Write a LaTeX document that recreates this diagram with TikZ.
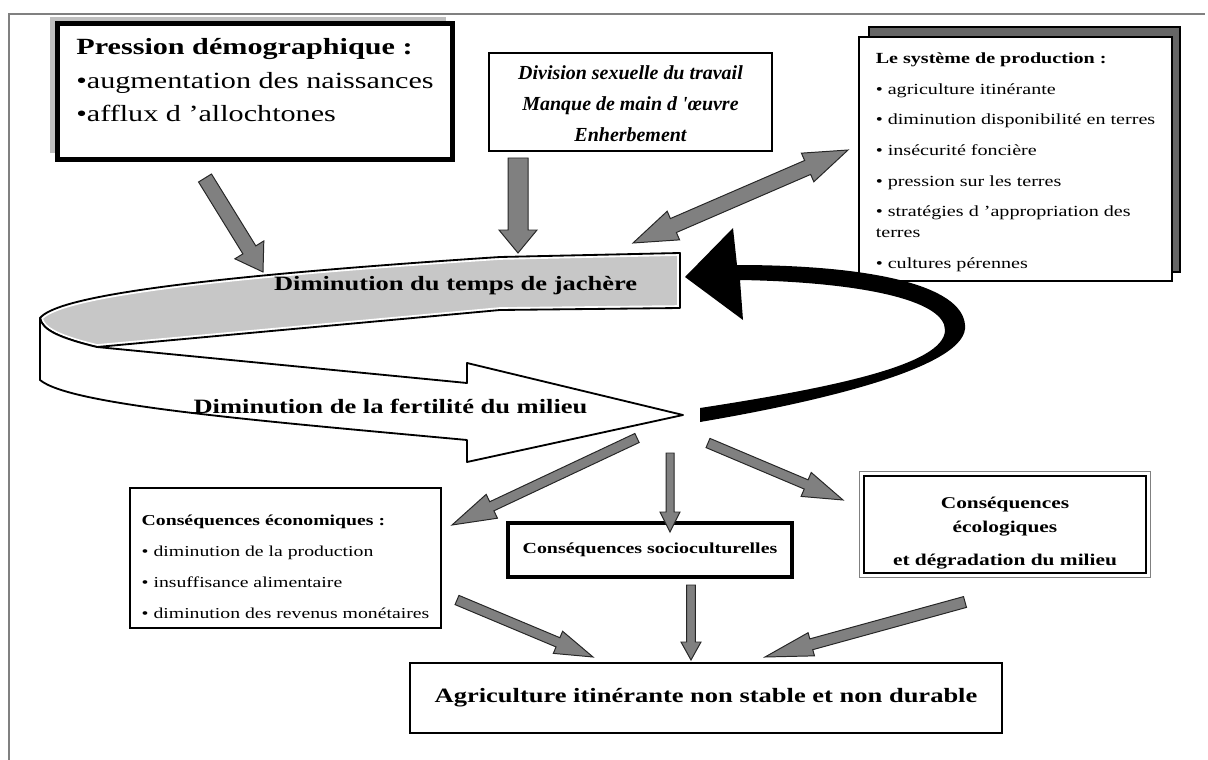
\documentclass[tikz,border=0pt]{standalone}
\usepackage{fontspec}
\setmainfont{Liberation Serif}[FakeStretch=1.3]
\newfontfamily\divfont{Liberation Serif}
\usetikzlibrary{calc}

\newcommand{\fatarrow}[5]{%
  \coordinate (fatbase) at ($(#2)!#5!(#1)$);
  \draw[fatarrow] ($(#1)!#3!90:(#2)$) -- ($(fatbase)!#3!-90:(#1)$) -- ($(fatbase)!#4!-90:(#1)$) -- (#2)
    -- ($(fatbase)!#4!90:(#1)$) -- ($(fatbase)!#3!90:(#1)$) -- ($(#1)!#3!-90:(#2)$) -- cycle;
}
\newcommand{\fatdoublearrow}[5]{%
  \coordinate (fatbase) at ($(#2)!#5!(#1)$);
  \coordinate (fatback) at ($(#1)!#5!(#2)$);
  \draw[fatarrow] (#1) -- ($(fatback)!#4!90:(#2)$) -- ($(fatback)!#3!90:(#2)$) -- ($(fatbase)!#3!-90:(#1)$)
    -- ($(fatbase)!#4!-90:(#1)$) -- (#2) -- ($(fatbase)!#4!90:(#1)$) -- ($(fatbase)!#3!90:(#1)$)
    -- ($(fatback)!#3!-90:(#2)$) -- ($(fatback)!#4!-90:(#2)$) -- cycle;
}

\begin{document}
\begin{tikzpicture} [
      box/.style={draw, rectangle, fill=white, inner sep=0pt},
      fatarrow/.style={draw=black!85, fill=black!50, line width=0.7pt, line join=miter},
      band/.style={draw, line width=1.3pt, line join=round}
   ]
    \useasboundingbox (0,0) rectangle (30.2,-19);
    \draw[black!50, line width=0.8pt] (0.225,-19) -- (0.225,-0.35) -- (30.125,-0.35);

    \fill[black!25] (1.25,-0.425) rectangle (11.15,-3.825);
    \node[box, line width=2.8pt, minimum width=9.9cm, minimum height=3.425cm, font=\fontsize{16.5}{23.8}\selectfont] (ndPression) at (6.375,-2.2875) {
      \begin{tabular}{@{}l@{}}
        \textbf{Pression démographique :} \\
        •augmentation des naissances \\
        •afflux d 'allochtones \\[14pt]
      \end{tabular}
    };
    \draw[line width=1pt] ([shift={(0.11,-0.11)}]ndPression.north west) rectangle ([shift={(-0.11,0.11)}]ndPression.south east);

    \node[box, line width=1pt, minimum width=7.075cm, minimum height=2.45cm, font=\divfont\bfseries\itshape\fontsize{14.2}{22}\selectfont] (ndDivision) at (15.7625,-2.55) {
      \begin{tabular}{@{}c@{}}
        \noalign{\vskip 3pt}
        Division sexuelle du travail \\
        Manque de main d 'œuvre \\
        Enherbement
      \end{tabular}
    };

    \draw[fill=black!60, line width=1pt] (21.725,-0.675) rectangle (29.5,-6.8);
    \node[box, line width=1.6pt, minimum width=7.825cm, minimum height=6.1cm, font=\fontsize{11}{15}\selectfont] (ndSysteme) at (25.3875,-3.975) {
      \begin{tabular}{@{}l@{}}
        \noalign{\vskip 4pt}
        \textbf{Le système de production :} \\[6.8pt]
        • agriculture itinérante \\[6.8pt]
        • diminution disponibilité en terres \\[6.8pt]
        • insécurité foncière \\[6.8pt]
        • pression sur les terres \\[6.8pt]
        • stratégies d 'appropriation des \\
        terres \\[6.8pt]
        • cultures pérennes
      \end{tabular}
    };

    \draw[band, preaction={fill=black!22}, preaction={draw=white, line width=4pt}] (1.0,-7.95) .. controls (1.375,-7.5) and (3.75,-7.0) .. (12.5,-6.425) -- (17.0,-6.325) -- (17.0,-7.7) -- (12.5,-7.75) -- (2.425,-8.675) .. controls (1.5,-8.45) and (1.05,-8.25) .. (1.0,-7.95) -- cycle;
    \draw[band, fill=white] (1.0,-7.95) .. controls (1.05,-8.25) and (1.5,-8.45) .. (2.425,-8.675) -- (11.675,-9.575) -- (11.675,-9.075) -- (17.075,-10.375) -- (11.675,-11.55) -- (11.675,-11.0) .. controls (6.25,-10.5) and (1.75,-10.125) .. (1.0,-9.5) -- cycle;
    \node[font=\bfseries\fontsize{14.5}{17}\selectfont, anchor=base] (ndJachere) at (11.39,-7.25) {Diminution du temps de jachère};
    \node[font=\bfseries\fontsize{14.5}{17}\selectfont, anchor=base] (ndFertilite) at (9.7625,-10.325) {Diminution de la fertilité du milieu};

    \fill[black] (17.5,-10.55) .. controls (20.75,-10.0) and (24.25,-9.125) .. (24.125,-8.125) .. controls (24.05,-7.125) and (21.75,-6.625) .. (18.425,-6.625) -- (18.325,-5.7) -- (17.125,-6.925) -- (18.575,-8.0) -- (18.5,-7.0) .. controls (21.5,-7.05) and (23.625,-7.5) .. (23.625,-8.25) .. controls (23.625,-9.125) and (20.75,-9.7) .. (17.5,-10.2) -- cycle;

    \coordinate (pdTail) at (5.125,-4.45);
    \coordinate (pdTip) at (6.575,-6.8);
    \coordinate (divTail) at (12.95,-3.95);
    \coordinate (divTip) at (12.95,-6.325);
    \coordinate (jachereTip) at (15.825,-6.075);
    \coordinate (systemeTip) at (21.2,-3.75);
    \fatarrow{pdTail}{pdTip}{0.19cm}{0.425cm}{0.65cm};
    \fatarrow{divTail}{divTip}{0.25cm}{0.475cm}{0.575cm};
    \fatdoublearrow{jachereTip}{systemeTip}{0.19cm}{0.39cm}{1.1cm};

    \node[box, line width=0.8pt, minimum width=7.775cm, minimum height=3.5cm, font=\fontsize{10.8}{14}\selectfont] (ndEconomie) at (7.1375,-13.95) {
      \begin{tabular}{@{}l@{}}
        \noalign{\vskip 14pt}
        \textbf{Conséquences économiques :} \\[8pt]
        • diminution de la production \\[8pt]
        • insuffisance alimentaire \\[8pt]
        • diminution des revenus monétaires
      \end{tabular}
    };
    \node[box, line width=2.4pt, minimum width=7.1cm, minimum height=1.35cm, font=\bfseries\fontsize{10.9}{13}\selectfont] (ndSocio) at (16.25,-13.75) {Conséquences socioculturelles};
    \node[box, line width=2pt, minimum width=7.05cm, minimum height=2.425cm, font=\bfseries\fontsize{11.7}{17}\selectfont] (ndEcologie) at (25.125,-13.1125) {
      \begin{tabular}{@{}c@{}}
        \noalign{\vskip 11pt}
        Conséquences \\
        écologiques \\[6.5pt]
        et dégradation du milieu
      \end{tabular}
    };
    \draw[black!50, line width=0.6pt] ([shift={(-0.08,0.08)}]ndEcologie.north west) rectangle ([shift={(0.08,-0.08)}]ndEcologie.south east);
    \node[box, line width=2pt, minimum width=14.8cm, minimum height=1.75cm, font=\bfseries\fontsize{14.5}{17}\selectfont] (ndAgriculture) at (17.65,-17.45) {Agriculture itinérante non stable et non durable};

    \coordinate (fertEco) at (15.925,-10.95);
    \coordinate (ecoTip) at (11.3,-13.125);
    \coordinate (fertSocio) at (16.75,-11.325);
    \coordinate (socioTip) at (16.75,-13.3);
    \coordinate (fertEcol) at (17.7,-11.075);
    \coordinate (ecolTip) at (21.075,-12.5);
    \fatarrow{fertEco}{ecoTip}{0.125cm}{0.33cm}{1.1cm};
    \fatarrow{fertSocio}{socioTip}{0.1cm}{0.25cm}{0.5cm};
    \fatarrow{fertEcol}{ecolTip}{0.125cm}{0.325cm}{1.0cm};

    \coordinate (ecoTail) at (11.425,-15.0);
    \coordinate (agriLeft) at (14.825,-16.425);
    \coordinate (socioTail) at (17.275,-14.625);
    \coordinate (agriMid) at (17.275,-16.5);
    \coordinate (ecolTail) at (24.125,-15.05);
    \coordinate (agriRight) at (19.125,-16.425);
    \fatarrow{ecoTail}{agriLeft}{0.125cm}{0.3cm}{0.95cm};
    \fatarrow{socioTail}{agriMid}{0.11cm}{0.25cm}{0.45cm};
    \fatarrow{ecolTail}{agriRight}{0.14cm}{0.3cm}{1.2cm};

  \end{tikzpicture}
\end{document}
